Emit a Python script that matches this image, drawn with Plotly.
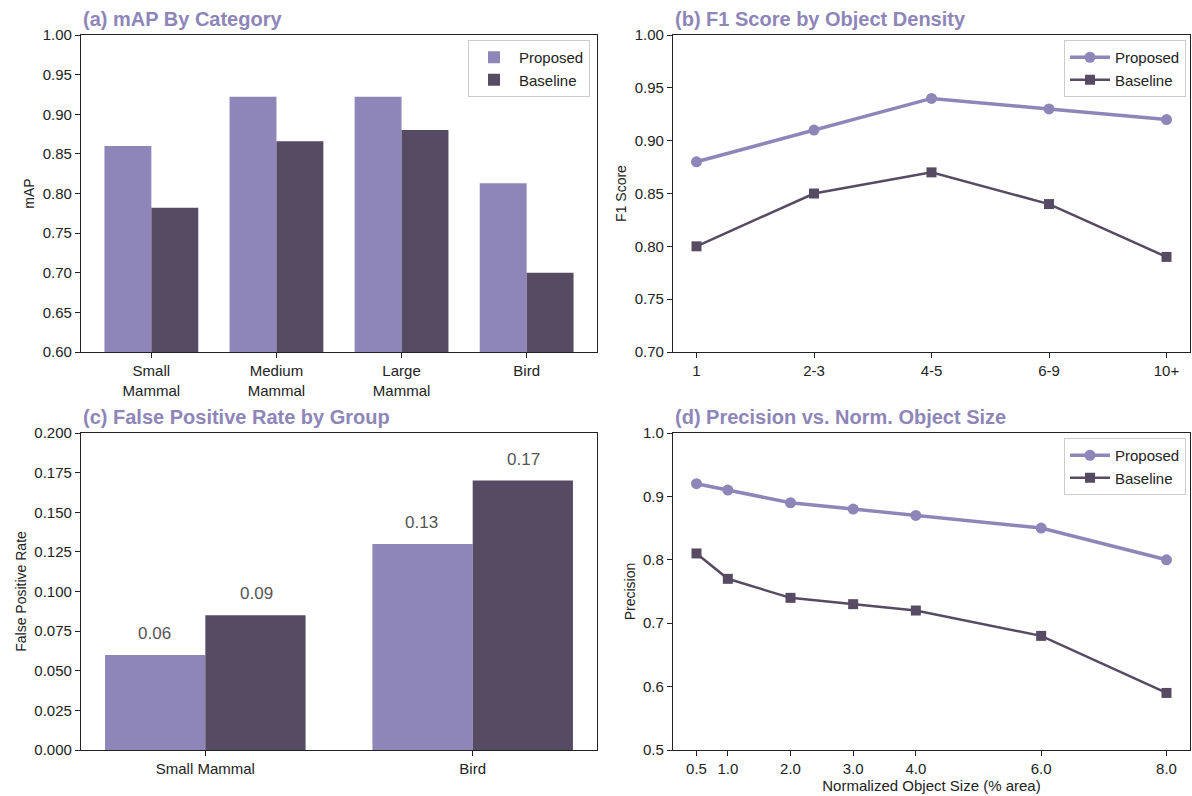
import plotly.graph_objects as go

# ---- data ----
categories = ["Small Mammal", "Medium Mammal", "Large Mammal", "Bird"]
map_proposed = [0.860, 0.922, 0.922, 0.813]
map_baseline = [0.782, 0.866, 0.880, 0.700]

density_bins = ["1", "2-3", "4-5", "6-9", "10+"]
f1_proposed = [0.88, 0.91, 0.94, 0.93, 0.92]
f1_baseline = [0.80, 0.85, 0.87, 0.84, 0.79]

fpr_groups = ["Small Mammal", "Bird"]
fpr_proposed = [0.06, 0.13]
fpr_baseline = [0.085, 0.17]

object_sizes = [0.5, 1.0, 2.0, 3.0, 4.0, 6.0, 8.0]
prec_proposed = [0.92, 0.91, 0.89, 0.88, 0.87, 0.85, 0.80]
prec_baseline = [0.81, 0.77, 0.74, 0.73, 0.72, 0.68, 0.59]

# ---- style ----
C_PROP = "#8E85B8"
C_BASE = "#574A63"
FONT = "Liberation Sans, Arial, sans-serif"
W, H = 1192, 796

fig = go.Figure()

# (a) grouped bars
fig.add_trace(go.Bar(x=categories, y=map_proposed, name="Proposed", marker_color=C_PROP,
                     marker_line_width=0, xaxis="x", yaxis="y", legend="legend"))
fig.add_trace(go.Bar(x=categories, y=map_baseline, name="Baseline", marker_color=C_BASE,
                     marker_line_width=0, xaxis="x", yaxis="y", legend="legend"))

# (b) lines
fig.add_trace(go.Scatter(x=density_bins, y=f1_proposed, name="Proposed", mode="lines+markers",
                         line=dict(color=C_PROP, width=3.5), marker=dict(symbol="circle", size=11, color=C_PROP),
                         xaxis="x2", yaxis="y2", legend="legend2"))
fig.add_trace(go.Scatter(x=density_bins, y=f1_baseline, name="Baseline", mode="lines+markers",
                         line=dict(color=C_BASE, width=2.5), marker=dict(symbol="square", size=10, color=C_BASE),
                         xaxis="x2", yaxis="y2", legend="legend2"))

# (c) grouped bars with value labels
fig.add_trace(go.Bar(x=fpr_groups, y=fpr_proposed, name="Proposed", marker_color=C_PROP,
                     marker_line_width=0, xaxis="x3", yaxis="y3", showlegend=False))
fig.add_trace(go.Bar(x=fpr_groups, y=fpr_baseline, name="Baseline", marker_color=C_BASE,
                     marker_line_width=0, xaxis="x3", yaxis="y3", showlegend=False))

# (d) lines
fig.add_trace(go.Scatter(x=object_sizes, y=prec_proposed, name="Proposed", mode="lines+markers",
                         line=dict(color=C_PROP, width=3.5), marker=dict(symbol="circle", size=11, color=C_PROP),
                         xaxis="x4", yaxis="y4", legend="legend3"))
fig.add_trace(go.Scatter(x=object_sizes, y=prec_baseline, name="Baseline", mode="lines+markers",
                         line=dict(color=C_BASE, width=2.5), marker=dict(symbol="square", size=10, color=C_BASE),
                         xaxis="x4", yaxis="y4", legend="legend3"))

# panel geometry (paper fractions)
XL = [81 / W, 597 / W]
XR = [673 / W, 1190 / W]
YT = [1 - 352 / H, 1 - 35 / H]
YB = [1 - 750 / H, 1 - 433 / H]

axis_common = dict(showline=True, mirror=True, linecolor="#222222", linewidth=1.2,
                   ticks="outside", ticklen=5, tickcolor="#222222", showgrid=False, zeroline=False,
                   automargin=False,
                   tickfont=dict(size=15, color="#222222", family=FONT))

fig.update_layout(
    width=W, height=H, margin=dict(l=0, r=0, t=0, b=0),
    paper_bgcolor="white", plot_bgcolor="white",
    font=dict(family=FONT, color="#222222"),
    barmode="group", bargap=0.25, bargroupgap=0,
    xaxis=dict(domain=XL, anchor="y", range=[-0.5625, 3.5625],
               tickvals=categories, ticktext=["Small<br>Mammal", "Medium<br>Mammal", "Large<br>Mammal", "Bird"],
               **axis_common),
    yaxis=dict(domain=YT, anchor="x", range=[0.60, 1.00], dtick=0.05, tickformat=".2f",
               title=dict(text="mAP", font=dict(size=14), standoff=4), **axis_common),
    xaxis2=dict(domain=XR, anchor="y2", range=[-0.2, 4.2], **axis_common),
    yaxis2=dict(domain=YT, anchor="x2", range=[0.70, 1.00], dtick=0.05, tickformat=".2f",
                title=dict(text="F1 Score", font=dict(size=14), standoff=4), **axis_common),
    xaxis3=dict(domain=XL, anchor="y3", range=[-0.465, 1.465], **axis_common),
    yaxis3=dict(domain=YB, anchor="x3", range=[0.0, 0.2], dtick=0.025, tickformat=".3f",
                title=dict(text="False Positive Rate", font=dict(size=14), standoff=4), **axis_common),
    xaxis4=dict(domain=XR, anchor="y4", range=[0.125, 8.375], tickvals=object_sizes,
                ticktext=[f"{v:.1f}" for v in object_sizes],
                title=dict(text="Normalized Object Size (% area)", font=dict(size=15), standoff=2),
                **axis_common),
    yaxis4=dict(domain=YB, anchor="x4", range=[0.5, 1.0], dtick=0.1, tickformat=".1f",
                title=dict(text="Precision", font=dict(size=14), standoff=4), **axis_common),
)

legend_common = dict(bgcolor="rgba(255,255,255,0.9)", bordercolor="#CCCCCC", borderwidth=1,
                     font=dict(size=15, color="#222222", family=FONT), xanchor="right", yanchor="top",
                     itemwidth=40, tracegroupgap=2)
fig.update_layout(
    legend=dict(x=590 / W, y=1 - 40 / H, **legend_common),
    legend2=dict(x=1186 / W, y=1 - 40 / H, **legend_common),
    legend3=dict(x=1186 / W, y=1 - 438 / H, **legend_common),
)

# panel titles
titles = [
    ("(a) mAP By Category", XL[0], 1 - 19 / H),
    ("(b) F1 Score by Object Density", XR[0], 1 - 19 / H),
    ("(c) False Positive Rate by Group", XL[0], 1 - 417 / H),
    ("(d) Precision vs. Norm. Object Size", XR[0], 1 - 417 / H),
]
for text, x, y in titles:
    fig.add_annotation(text=f"<b>{text}</b>", x=x, y=y, xref="paper", yref="paper",
                       xanchor="left", yanchor="middle", showarrow=False,
                       font=dict(size=20, color=C_PROP, family=FONT))

# value labels over the FPR bars
offsets = [-0.19, 0.19]
for series, off in zip([fpr_proposed, fpr_baseline], offsets):
    for i, v in enumerate(series):
        fig.add_annotation(text=f"{v:.2f}", x=i + off, y=v, xref="x3", yref="y3",
                           xanchor="center", yanchor="bottom", yshift=10, showarrow=False,
                           font=dict(size=17, color="#555555", family=FONT))

fig.write_html("out.html")
